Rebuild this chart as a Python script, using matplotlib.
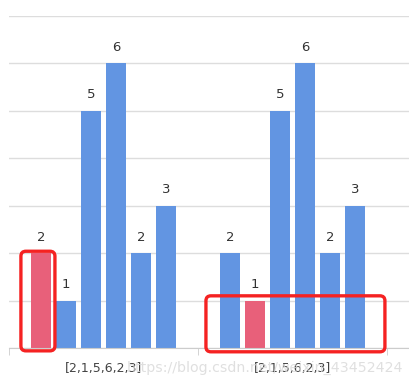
import matplotlib
matplotlib.use('Agg')
import matplotlib.pyplot as plt
from matplotlib.patches import FancyBboxPatch
from matplotlib.transforms import IdentityTransform

# data
categories = ['[2,1,5,6,2,3]', '[2,1,5,6,2,3]']
values = [2, 1, 5, 6, 2, 3]
highlight = [0, 1]  # highlighted bar per category
# red boxes (x0, x1, y0, y1) in data units
boxes = [(-0.437, -0.257, -0.06, 2.04), (0.542, 1.489, -0.08, 1.10)]

blue = '#6295E2'
pink = '#E8607A'

fig = plt.figure(figsize=(4.10, 3.87), dpi=100)
ax = fig.add_axes([9 / 410, 39 / 387, 401 / 410, 332 / 387])

step = 25 / 189
width = 20 / 189
n = len(values)
for c, cat in enumerate(categories):
    for i, v in enumerate(values):
        x = c + (i - (n - 1) / 2) * step
        col = pink if i == highlight[c] else blue
        ax.bar(x, v, width=width, color=col, zorder=2)
        ax.text(x, v + 0.2, str(v), ha='center', va='bottom',
                fontsize=9.5, color='#333333')

ax.set_xlim(-0.5, -0.5 + 401 / 189)
ax.set_ylim(0, 7)
ax.set_yticks(range(0, 8))
ax.yaxis.grid(True, color='#dddddd', linewidth=1)
ax.set_axisbelow(True)
ax.tick_params(axis='y', left=False, labelleft=False)
ax.set_xticks([-0.5, 0.5, 1.5], minor=True)
ax.set_xticks(range(len(categories)))
ax.set_xticklabels(categories, fontsize=9, color='#444444')
ax.tick_params(axis='x', which='major', length=0, pad=10)
ax.tick_params(axis='x', which='minor', length=5, color='#cccccc')
for s in ['top', 'right', 'left']:
    ax.spines[s].set_visible(False)
ax.spines['bottom'].set_color('#cccccc')

# red highlight frames, drawn in pixels so corners stay round
for x0, x1, y0, y1 in boxes:
    (px0, py0), (px1, py1) = ax.transData.transform([(x0, y0), (x1, y1)])
    fig.patches.append(FancyBboxPatch((px0, py0), px1 - px0, py1 - py0,
                                      boxstyle='round,pad=0,rounding_size=5',
                                      transform=IdentityTransform(),
                                      fill=False, edgecolor='#F52222',
                                      linewidth=2.4, zorder=5, figure=fig))

fig.text(265 / 410, (387 - 368) / 387, 'https://blog.csdn.net/weixin_43452424',
         ha='center', va='center', fontsize=10.2, color='#d8d8d8', alpha=0.8)

plt.savefig('out.png', dpi=100)
